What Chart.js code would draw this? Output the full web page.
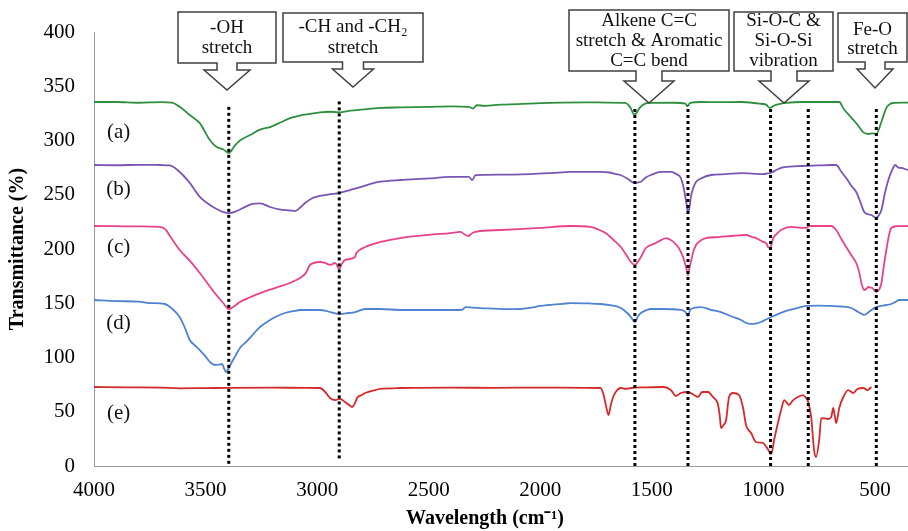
<!DOCTYPE html>
<html>
<head>
<meta charset="utf-8">
<script src="https://cdn.jsdelivr.net/npm/chart.js@4/dist/chart.umd.min.js"></script>
<style>
html,body{margin:0;padding:0;background:#fff;}
#wrap{width:908px;height:531px;position:relative;}
</style>
</head>
<body>
<div id="wrap"><canvas id="c"></canvas></div>
<script>
// ---------- data ----------
const seriesNames = ['(a)', '(b)', '(c)', '(d)', '(e)'];
const seriesColors = ['#2f8f3f', '#7b55b3', '#e8438a', '#4f82d0', '#d42a2a'];
const xTickValues = [4000, 3500, 3000, 2500, 2000, 1500, 1000, 500];
const yTickStep = 50;
const bandPositions = [3396, 2901, 1576, 1338, 968, 799, 494];
const bandTops = [331, 337, 330, 332, 331, 329, 329];
const bandBottoms = [2, 7, 0, 0, 0, 0, 0];

const seriesA = [[4000,335.5],[3900,335.5],[3800,334.8],[3700,335.3],[3652,335],[3616,331],[3571,323.5],[3526,316],[3481,300.5],[3450,294],[3422,292],[3396,288.5],[3370,295],[3346,300],[3301,305],[3256,310],[3211,312.4],[3160,317],[3122,320.7],[3077,323],[3032,324.5],[2987,326],[2940,326.5],[2901,326],[2850,327.5],[2800,328.5],[2717,330],[2628,330.5],[2500,331],[2400,331.5],[2320,331],[2300,329.5],[2285,332.5],[2250,332],[2178,333],[2100,333.5],[2000,334.5],[1909,335],[1800,335.2],[1700,335],[1620,334.6],[1595,330],[1580,324],[1570,325],[1555,330],[1530,334],[1513,334.6],[1400,334.8],[1350,334],[1340,331.5],[1330,334.5],[1280,335.5],[1200,335.3],[1100,335.5],[1020,334],[988,333],[972,330],[950,332.5],[920,334],[898,334.6],[831,335.5],[700,335.5],[660,335.5],[640,329],[610,322],[580,315],[552,307.5],[530,306],[510,306.5],[494,306],[470,318],[449,330],[430,334],[413,334.6],[380,335],[352,335]];

const seriesB = [[4000,277.4],[3900,277.2],[3800,277.6],[3700,277.4],[3661,277],[3616,271],[3571,261],[3526,248],[3490,242],[3459,237.8],[3420,234],[3396,233],[3360,235],[3320,239],[3290,241.5],[3256,242],[3211,238.7],[3170,236.5],[3122,235.5],[3099,235],[3077,238],[3054,242.4],[3020,247],[2987,249],[2942,250.5],[2901,251.6],[2850,254.5],[2807,257],[2760,260],[2717,262],[2628,263.6],[2500,265],[2403,266.4],[2320,266.4],[2305,263.6],[2290,268],[2178,268.5],[2044,269.1],[1950,270],[1864,271],[1730,271],[1690,270.5],[1660,269],[1639,268],[1610,265],[1590,262],[1576,260.8],[1560,261.5],[1549,262],[1527,266],[1504,268.2],[1460,271],[1415,271],[1390,269],[1370,265.4],[1356,255],[1345,242],[1338,233.2],[1330,240],[1325,247.9],[1315,256],[1302,261.8],[1280,265],[1235,268.2],[1170,269],[1100,270],[1000,269.1],[985,269.5],[970,270],[940,273],[921,274.7],[880,276],[831,276.5],[760,277],[696,277.4],[674,277.4],[650,271],[629,265.4],[605,258],[584,252.5],[565,243],[548,234],[530,232],[516,231.3],[494,228.6],[480,232],[471,236],[455,252],[440,263.6],[425,272],[409,277.4],[395,275],[382,274.7],[352,272.8]];

const seriesC = [[4000,221.2],[3900,221],[3800,220.8],[3706,220.3],[3680,218],[3660,212],[3616,199.1],[3570,189],[3526,177.9],[3490,168],[3459,159.4],[3420,150],[3396,144.7],[3370,147.5],[3346,151.2],[3300,155.5],[3256,159.4],[3190,164],[3122,168.7],[3077,173.3],[3050,178],[3032,185.3],[2987,188],[2964,187.1],[2942,185.3],[2919,187.1],[2901,181.6],[2890,186],[2875,189.9],[2830,192.6],[2825,196],[2821,197.2],[2785,201.8],[2717,206.5],[2628,210.1],[2500,213],[2403,214.7],[2358,215.7],[2335,212.9],[2320,212],[2313,213.5],[2291,215.7],[2178,217.5],[2000,219.4],[1864,221.2],[1775,220.3],[1740,218],[1707,214.7],[1670,208],[1639,201.8],[1610,193],[1594,188],[1576,185.3],[1560,189],[1549,192.6],[1527,200.9],[1482,205.5],[1460,208],[1437,210.1],[1415,208.3],[1395,205],[1379,200.9],[1365,195],[1356,189.9],[1345,182],[1338,176],[1332,182],[1325,188],[1315,197],[1302,203.7],[1280,208],[1257,210.1],[1200,211],[1145,212],[1110,212.5],[1078,212.9],[1050,211],[1033,210.1],[1001,206.5],[988,205.5],[978,201.5],[970,201],[956,210.1],[940,214],[921,217.5],[876,220.3],[830,219.5],[808,219.4],[795,221.2],[696,221.2],[674,217.5],[650,209],[629,201.8],[605,194],[584,187.1],[570,178],[561,168.7],[548,162.2],[538,163.5],[530,165],[520,164.5],[512,164],[494,160.4],[480,163],[471,168.7],[460,185],[449,199.1],[438,212],[427,219.4],[400,221],[352,221.2]];

const seriesD = [[4000,153],[3900,152],[3800,151.5],[3751,150.2],[3683,149.3],[3650,145],[3616,137.3],[3590,126],[3571,116.1],[3549,111.5],[3526,106.9],[3500,101],[3481,95.9],[3459,93.1],[3440,93.5],[3427,94],[3415,89],[3409,86.6],[3396,90.3],[3382,95.9],[3365,102],[3346,108.8],[3320,114],[3301,118],[3280,123],[3256,128.1],[3211,134.6],[3180,138],[3144,141],[3100,143],[3077,143.8],[2987,143.8],[2960,143],[2942,141.9],[2901,140.1],[2860,141],[2830,141.9],[2785,144.7],[2717,144.7],[2628,143.8],[2500,143.8],[2403,143.8],[2350,144],[2335,146.5],[2300,146],[2268,145.6],[2150,144.5],[2089,144.7],[2040,146],[1999,147.5],[1900,149.5],[1864,150.2],[1780,149.8],[1730,149.3],[1680,148],[1639,145.6],[1610,141],[1594,137.3],[1576,132.7],[1562,138],[1549,141],[1520,144],[1504,144.7],[1460,144.7],[1370,143.8],[1350,142],[1338,138.2],[1330,143],[1325,144.7],[1280,146.5],[1235,144],[1190,141.9],[1145,138],[1100,134.6],[1080,132],[1055,130.9],[1030,131.5],[1011,132.7],[988,135],[965,137.3],[930,140.5],[898,142.9],[850,145.5],[808,147.5],[750,147.8],[696,147.5],[650,147],[606,145.6],[575,142],[548,139.2],[530,141.5],[516,143.8],[494,146.5],[460,148],[427,149.3],[410,151],[391,153],[352,153]];

const seriesE = [[4000,72.8],[3850,72.5],[3700,72.3],[3616,71.6],[3500,71.8],[3400,72],[3200,72.2],[3050,72],[2987,71.9],[2964,68.2],[2942,62.7],[2919,60.8],[2897,61.8],[2875,59],[2855,56],[2843,54.4],[2830,58],[2821,62.7],[2800,65.5],[2785,67.3],[2740,70],[2717,71],[2628,71.9],[2400,72.2],[2200,72],[2000,72.3],[1800,72],[1730,71.9],[1716,65.4],[1705,55],[1694,47],[1684,56],[1675,62.7],[1662,68.2],[1639,71.9],[1617,71],[1594,71.9],[1520,72.5],[1446,72.8],[1415,70],[1392,64.5],[1370,67.3],[1338,68.2],[1311,65.4],[1293,63.6],[1275,68.2],[1248,68.2],[1226,63.6],[1210,60],[1203,56.2],[1195,45],[1190,35],[1178,38],[1167,42.4],[1160,55],[1154,63.6],[1136,67.3],[1109,65.4],[1091,53.5],[1078,37.8],[1055,30.4],[1033,22.1],[1010,21.5],[1001,21.2],[983,16.6],[965,11.1],[952,24],[934,40.6],[920,52],[907,60.8],[885,56.2],[870,60],[853,62.7],[822,65.4],[810,63],[799,59],[786,45.2],[773,14.7],[764,8.3],[750,24],[741,44.2],[725,43.8],[710,43.3],[696,45.2],[687,53.5],[680,46],[674,39.6],[660,53.5],[642,63.6],[620,70],[597,67.3],[579,71],[552,71.9],[534,70],[516,72.8]];

const allSeries = [seriesA, seriesB, seriesC, seriesD, seriesE];
// label anchor (wavenumber, transmittance) for each series tag
const seriesTagX = [3890, 3890, 3890, 3890, 3890];
const seriesTagY = [307.8, 254.4, 201.8, 131.8, 48.8];

// ---------- styling ----------
const FONT = "'Liberation Serif', 'Times New Roman', serif";

// callout annotations (pixel geometry of the drawing)
const callouts = [
  {lines: ['-OH', 'stretch'], ys: [28.5, 48.5], box: [178, 12, 276, 63], shaft: [10, 70], head: [23], tip: [227, 90]},
  {lines: ['-CH and -CH\u2082', 'stretch'], ys: [27.5, 48], box: [283, 13, 423, 62], shaft: [10.5, 69], head: [20.5], tip: [353, 87]},
  {lines: ['Alkene C=C', 'stretch & Aromatic', 'C=C bend'], ys: [21.5, 41.5, 61.5], box: [569, 10, 729, 71], shaft: [13, 81], head: [25], tip: [649, 103]},
  {lines: ['Si-O-C &', 'Si-O-Si', 'vibration'], ys: [21.5, 41.5, 61.5], box: [734, 12, 833, 71], shaft: [13, 81], head: [25], tip: [784, 103]},
  {lines: ['Fe-O', 'stretch'], ys: [30, 49.5], box: [838, 13, 907, 62], shaft: [10, 69], head: [18], tip: [875, 88]}
];

const decorPlugin = {
  id: 'decor',
  afterDraw(chart) {
    const ctx = chart.ctx;
    const xs = chart.scales.x, ys = chart.scales.y;
    ctx.save();
    // series tags
    ctx.font = '21px ' + FONT;
    ctx.fillStyle = '#111';
    ctx.textAlign = 'center';
    ctx.textBaseline = 'middle';
    seriesNames.forEach((n, i) => {
      ctx.fillText(n, xs.getPixelForValue(seriesTagX[i]), ys.getPixelForValue(seriesTagY[i]));
    });
    // callouts
    callouts.forEach(c => {
      const [l, t, r, b] = c.box;
      const cx = c.tip[0];
      const sw = c.shaft[0], sb = c.shaft[1], hw = c.head[0];
      ctx.beginPath();
      ctx.moveTo(l, t);
      ctx.lineTo(r, t);
      ctx.lineTo(r, b);
      ctx.lineTo(cx + sw, b);
      ctx.lineTo(cx + sw, sb);
      ctx.lineTo(cx + hw, sb);
      ctx.lineTo(cx, c.tip[1]);
      ctx.lineTo(cx - hw, sb);
      ctx.lineTo(cx - sw, sb);
      ctx.lineTo(cx - sw, b);
      ctx.lineTo(l, b);
      ctx.closePath();
      ctx.fillStyle = '#fff';
      ctx.fill();
      ctx.lineWidth = 1.5;
      ctx.strokeStyle = '#404040';
      ctx.stroke();
      ctx.fillStyle = '#111';
      ctx.font = '19px ' + FONT;
      ctx.textAlign = 'center';
      ctx.textBaseline = 'middle';
      const mx = (l + r) / 2;
      c.lines.forEach((s, k) => ctx.fillText(s, mx, c.ys[k]));
    });
    // x axis title
    ctx.font = 'bold 20px ' + FONT;
    ctx.fillStyle = '#000';
    ctx.textAlign = 'center';
    ctx.textBaseline = 'middle';
    ctx.fillText('Wavelength (cm\u207B\u00B9)', 485, 519);
    ctx.restore();
  }
};

const datasets = [];
bandPositions.forEach((b, i) => {
  datasets.push({
    label: 'band ' + b,
    data: [{x: b, y: bandBottoms[i]}, {x: b, y: bandTops[i]}],
    borderColor: '#000',
    borderWidth: 3,
    borderDash: [3, 3],
    pointRadius: 0,
    order: 0
  });
});
allSeries.forEach((s, i) => {
  datasets.push({
    label: seriesNames[i],
    data: s.map(([x, y]) => ({x, y})),
    borderColor: seriesColors[i],
    borderWidth: 1.8,
    pointRadius: 0,
    cubicInterpolationMode: 'monotone',
    order: 1
  });
});

new Chart(document.getElementById('c'), {
  type: 'line',
  data: {datasets},
  plugins: [decorPlugin],
  options: {
    responsive: true,
    maintainAspectRatio: false,
    animation: false,
    layout: {padding: {top: 32, right: 0, left: 0, bottom: 0}},
    plugins: {legend: {display: false}, tooltip: {enabled: false}},
    scales: {
      x: {
        type: 'linear',
        reverse: true,
        min: 352,
        max: 4000,
        afterBuildTicks: (scale) => { scale.ticks = xTickValues.map(v => ({value: v})); },
        afterFit: (scale) => { scale.height = 65; },
        grid: {display: false, drawTicks: false},
        border: {display: true, color: '#9a9a9a', width: 1},
        ticks: {font: {family: FONT, size: 21}, color: '#000', padding: 12, maxRotation: 0, callback: (v) => String(v)}
      },
      y: {
        type: 'linear',
        min: 0,
        max: 400,
        afterFit: (scale) => { scale.width = 94; },
        grid: {display: false, drawTicks: false},
        border: {display: true, color: '#9a9a9a', width: 1},
        ticks: {stepSize: yTickStep, font: {family: FONT, size: 21}, color: '#000', padding: 19, callback: (v) => String(v)},
        title: {display: true, text: 'Transmittance (%)', font: {family: FONT, size: 20, weight: 'bold'}, color: '#000', padding: {top: 6, bottom: 0}}
      }
    }
  }
});
</script>
</body>
</html>
